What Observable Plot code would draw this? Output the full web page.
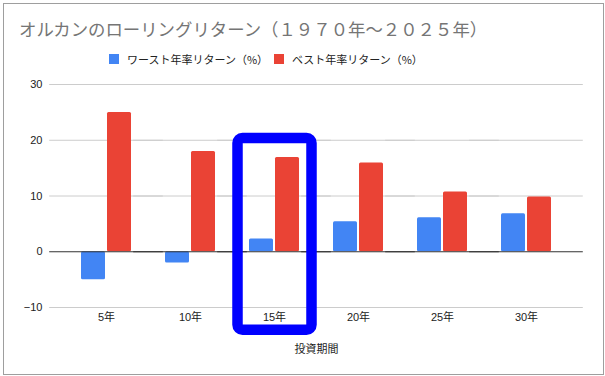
<!DOCTYPE html>
<html>
<head>
<meta charset="utf-8">
<script src="https://cdn.jsdelivr.net/npm/d3@7"></script>
<script src="https://cdn.jsdelivr.net/npm/@observablehq/plot@0.6"></script>
<style>
  html, body { margin: 0; padding: 0; background: #fff; }
  #page { position: relative; width: 605px; height: 376px; overflow: hidden; font-family: "Liberation Sans", "Noto Sans CJK JP", sans-serif; }
  #box { position: absolute; left: 3px; top: 3px; width: 601px; height: 372px; box-sizing: border-box; border: 1.5px solid #9e9e9e; }
  #header { position: absolute; left: 0; top: 0; width: 605px; height: 70px; }
  #title { position: absolute; left: 19px; top: 19px; font-size: 17.4px; line-height: 20px; color: #757575; font-family: "Noto Sans CJK JP", sans-serif; white-space: nowrap; }
  .sw { position: absolute; width: 10px; height: 10px; top: 54px; }
  .lt { position: absolute; top: 52px; font-size: 11px; line-height: 14px; color: #222; font-family: "Noto Sans CJK JP", sans-serif; white-space: nowrap; }
  #chart { position: absolute; left: 0; top: 70px; }
</style>
</head>
<body>
<div id="page">
  <div id="box"></div>
  <div id="header">
    <div id="title"></div>
    <div class="sw" id="sw0" style="left:109px"></div>
    <div class="lt" id="lt0" style="left:127px"></div>
    <div class="sw" id="sw1" style="left:274px"></div>
    <div class="lt" id="lt1" style="left:292px"></div>
  </div>
  <div id="chart"></div>
</div>
<script>
const titleText = "オルカンのローリングリターン（１９７０年～２０２５年）";
const periods = ["5年", "10年", "15年", "20年", "25年", "30年"];
const worst = [-5.0, -2.0, 2.3, 5.4, 6.1, 6.8];
const best = [25.0, 18.0, 16.9, 15.9, 10.7, 9.8];
const seriesNames = ["ワースト年率リターン（%）", "ベスト年率リターン（%）"];
const seriesColors = ["#4285f4", "#ea4335"];
const yTicks = [-10, 0, 10, 20, 30];
const gridTicks = [-10, 10, 20, 30];
const xLabel = "投資期間";
const highlightPeriod = ["15年"];
const highlightRange = [20.3, -14.1];

document.getElementById("title").textContent = titleText;
seriesNames.forEach((s, i) => {
  document.getElementById("sw" + i).style.background = seriesColors[i];
  document.getElementById("lt" + i).textContent = s;
});

const data = [];
periods.forEach((p, i) => {
  data.push({period: p, series: seriesNames[0], value: worst[i]});
  data.push({period: p, series: seriesNames[1], value: best[i]});
});

const chart = Plot.plot({
  width: 605,
  height: 306,
  marginLeft: 48,
  marginRight: 21,
  marginTop: 14,
  marginBottom: 69,
  style: {fontFamily: "'Liberation Sans', 'Noto Sans CJK JP', sans-serif", fontSize: "11px", color: "#222", background: "transparent"},
  fx: {domain: periods, paddingInner: 0, paddingOuter: 0.175, label: xLabel, labelAnchor: "center", tickSize: 0, tickPadding: 6, labelOffset: 45},
  x: {domain: seriesNames, paddingInner: 0.074, paddingOuter: 0.6, axis: null},
  y: {domain: [-10, 30], ticks: yTicks, tickSize: 0, tickPadding: 22, label: null},
  color: {domain: seriesNames, range: seriesColors},
  marks: [
    Plot.ruleY(gridTicks, {stroke: "#cccccc", strokeWidth: 1, insetLeft: -14.8, insetRight: -14.8}),
    Plot.barY(data, {fx: "period", x: "series", y: "value", fill: "series", rx: 1.5}),
    Plot.ruleY([0], {stroke: "#333333", strokeWidth: 1, insetLeft: -14.8, insetRight: -14.8}),
    Plot.rect(highlightPeriod, {fx: d => d, y1: highlightRange[0], y2: highlightRange[1], fill: "none", stroke: "#0000ff", strokeWidth: 10.5, rx: 5, insetLeft: 5.5, insetRight: 4.5})
  ]
});
document.getElementById("chart").appendChild(chart);
</script>
</body>
</html>
